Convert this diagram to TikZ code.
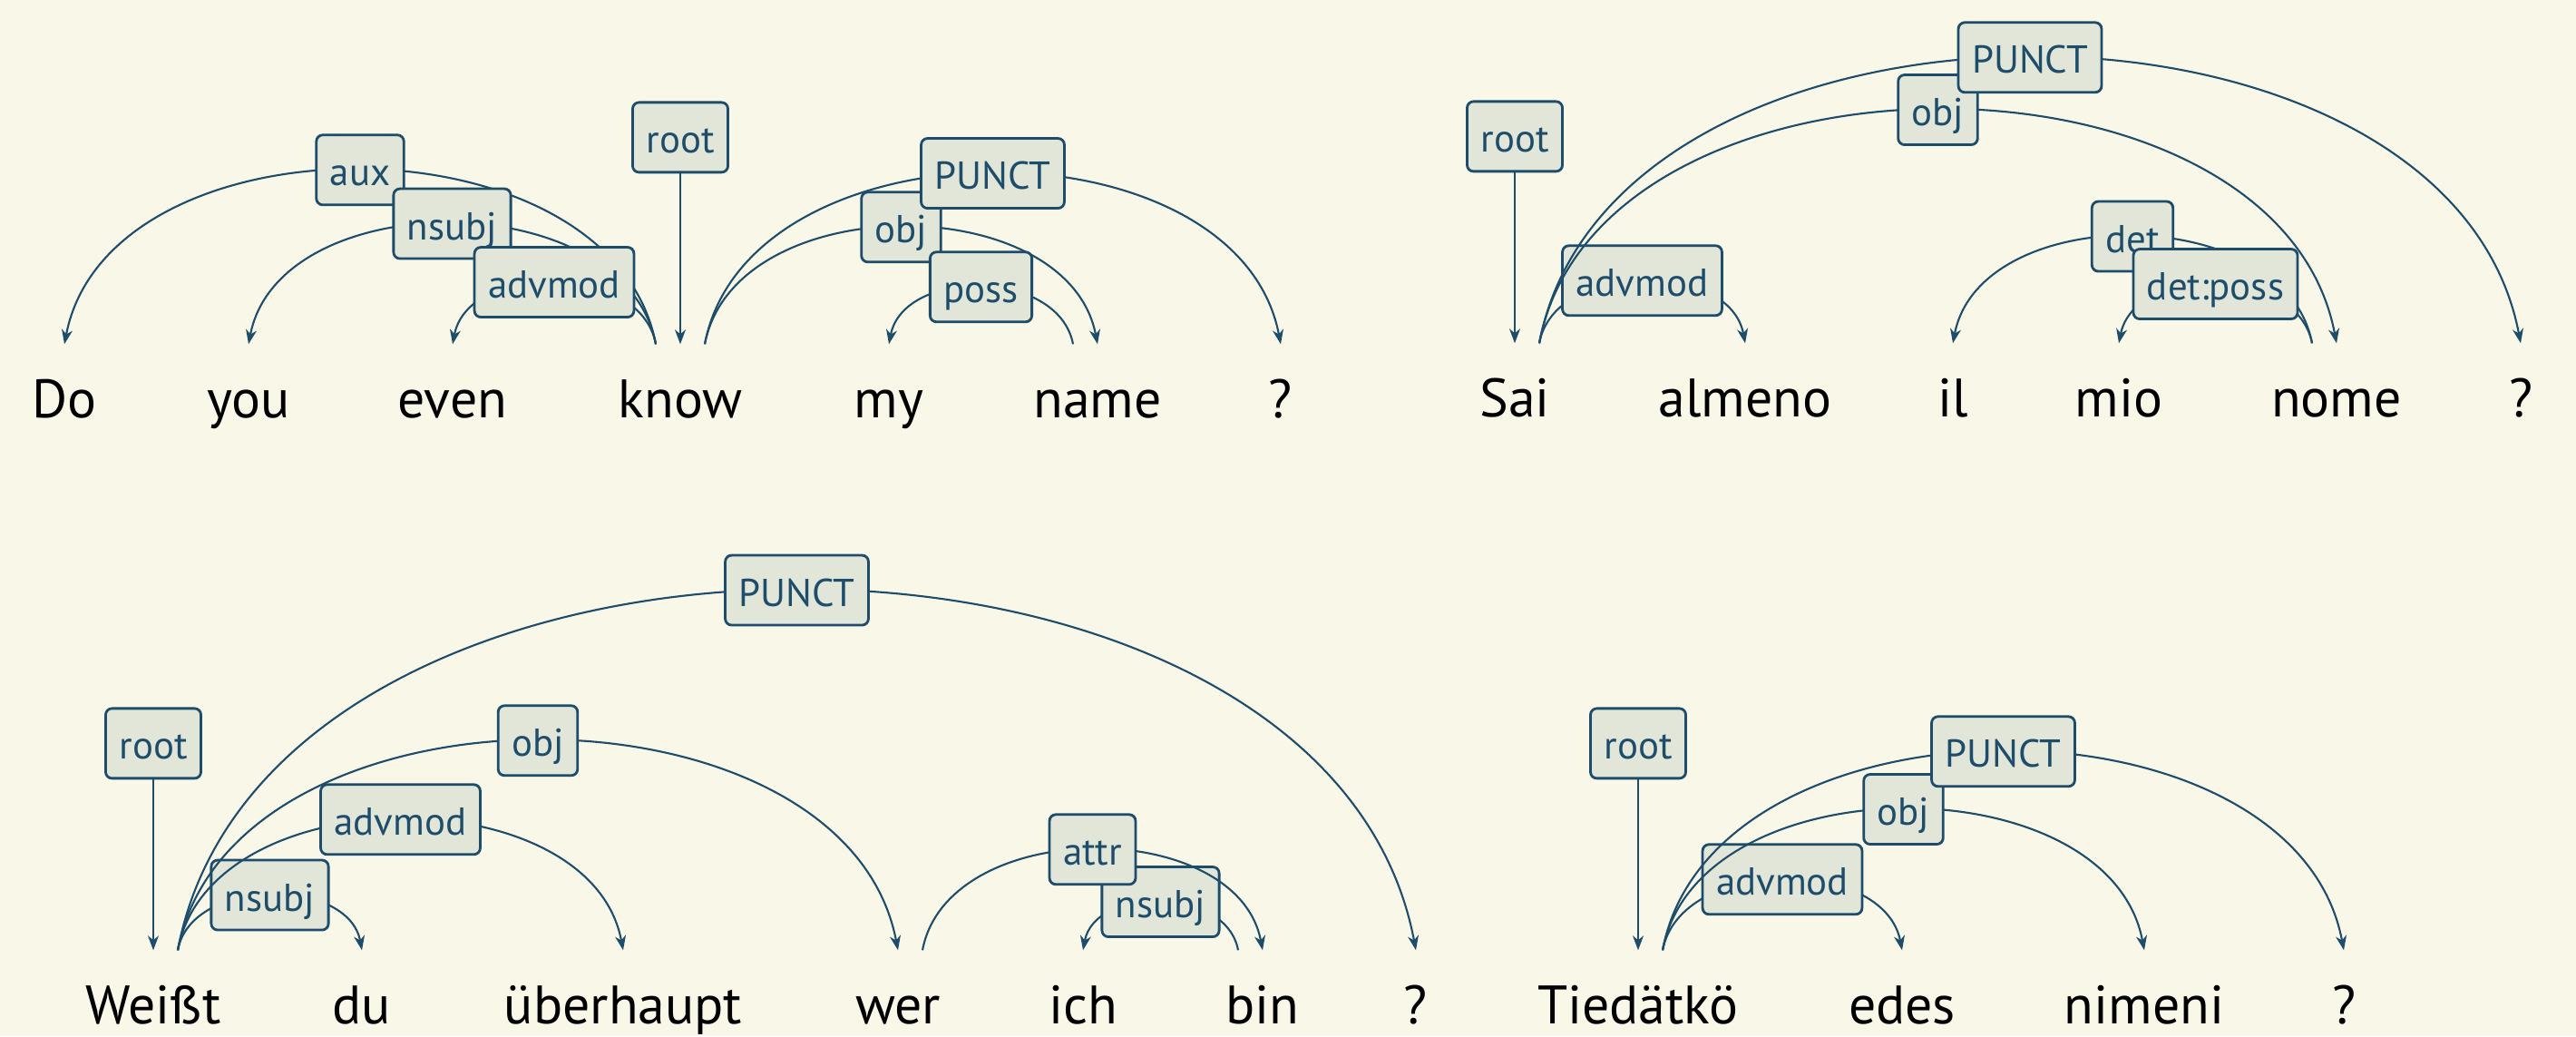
\documentclass[tikz,border=0pt]{standalone}
\usepackage{fontspec}
\setmainfont{PT Sans}
\usepackage{tikz}
\usetikzlibrary{positioning}
\usetikzlibrary{arrows.meta}

\definecolor{bgcream}{HTML}{F9F7E7}
\definecolor{depblue}{HTML}{1E4D6B}
\definecolor{labfill}{HTML}{E2E6D8}

\begin{document}
\begin{tikzpicture}[
	  word/.style = {anchor=base, font=\fontsize{17}{20}\selectfont, text height=5mm, text depth=1.5mm, inner ysep=3mm, inner xsep=0pt},
	  deplabel/.style = {shape=rectangle, rounded corners=2pt, draw=depblue, line width=0.8pt, fill=labfill, text=depblue, font=\fontsize{12.2}{14}\selectfont, text height=4.4mm, text depth=0.9mm, inner xsep=1.5mm, inner ysep=1.2mm},
	  deparc/.style = {draw=depblue, line width=0.6pt, -{Stealth[length=1.6mm, width=1.2mm, inset=0.5mm]}},
	  rootarc/.style = {deparc, line width=0.5pt}
	]

	  \useasboundingbox (0,0) rectangle (28.4,11.42);
	  \fill[bgcream] (0,0) rectangle (28.4,11.42);

	  \node[word] (do-en) at (0.71,6.82) {Do};
	  \node[word] (you-en) at (2.74,6.82) {you};
	  \node[word] (even-en) at (4.99,6.82) {even};
	  \node[word] (know-en) at (7.50,6.82) {know};
	  \node[word] (my-en) at (9.80,6.82) {my};
	  \node[word] (name-en) at (12.10,6.82) {name};
	  \node[word] (q-en) at (14.12,6.82) {?};

	  \draw[deparc] ([xshift=-2.7mm]know-en.north) .. controls +(-0.49,2.56) and +(0.49,2.56) .. node[deplabel, midway] (aux-en) {aux} (do-en.north);
	  \draw[deparc] ([xshift=-2.7mm]know-en.north) .. controls +(-0.34,1.77) and +(0.34,1.77) .. node[deplabel, midway] (nsubj-en) {nsubj} (you-en.north);
	  \draw[deparc] ([xshift=-2.7mm]know-en.north) .. controls +(-0.17,0.91) and +(0.17,0.91) .. node[deplabel, midway] (advmod-en) {advmod} (even-en.north);
	  \node[deplabel, above=18.8mm of know-en] (root-en) {root};
	  \draw[rootarc] (root-en) -- (know-en.north);
	  \draw[deparc] ([xshift=2.7mm]know-en.north) .. controls +(0.33,1.72) and +(-0.33,1.72) .. node[deplabel, midway] (obj-en) {obj} (name-en.north);
	  \draw[deparc] ([xshift=-2.7mm]name-en.north) .. controls +(-0.16,0.84) and +(0.16,0.84) .. node[deplabel, midway] (poss-en) {poss} (my-en.north);
	  \draw[deparc] ([xshift=2.7mm]know-en.north) .. controls +(0.48,2.51) and +(-0.48,2.51) .. node[deplabel, midway] (punct-en) {PUNCT} (q-en.north);

	  \node[word] (sai-it) at (16.70,6.83) {Sai};
	  \node[word] (almeno-it) at (19.24,6.83) {almeno};
	  \node[word] (il-it) at (21.53,6.83) {il};
	  \node[word] (mio-it) at (23.36,6.83) {mio};
	  \node[word] (nome-it) at (25.76,6.83) {nome};
	  \node[word] (q-it) at (27.79,6.83) {?};

	  \node[deplabel, above=18.8mm of sai-it] (root-it) {root};
	  \draw[rootarc] (root-it) -- (sai-it.north);
	  \draw[deparc] ([xshift=2.7mm]sai-it.north) .. controls +(0.17,0.92) and +(-0.17,0.92) .. node[deplabel, midway] (advmod-it) {advmod} (almeno-it.north);
	  \draw[deparc] ([xshift=2.7mm]sai-it.north) .. controls +(0.65,3.43) and +(-0.65,3.43) .. node[deplabel, midway] (obj-it) {obj} (nome-it.north);
	  \draw[deparc] ([xshift=2.7mm]sai-it.north) .. controls +(0.80,4.20) and +(-0.80,4.20) .. node[deplabel, midway] (punct-it) {PUNCT} (q-it.north);
	  \draw[deparc] ([xshift=-2.7mm]nome-it.north) .. controls +(-0.30,1.57) and +(0.30,1.57) .. node[deplabel, midway] (det-it) {det} (il-it.north);
	  \draw[deparc] ([xshift=-2.7mm]nome-it.north) .. controls +(-0.17,0.87) and +(0.17,0.87) .. node[deplabel, midway] (detposs-it) {det:poss} (mio-it.north);

	  \node[word] (weisst-de) at (1.69,0.14) {Weißt};
	  \node[word] (du-de) at (3.99,0.14) {du};
	  \node[word] (ueberhaupt-de) at (6.87,0.14) {überhaupt};
	  \node[word] (wer-de) at (9.90,0.14) {wer};
	  \node[word] (ich-de) at (11.94,0.14) {ich};
	  \node[word] (bin-de) at (13.92,0.14) {bin};
	  \node[word] (q-de) at (15.61,0.14) {?};

	  \node[deplabel, above=18.8mm of weisst-de] (root-de) {root};
	  \draw[rootarc] (root-de) -- (weisst-de.north);
	  \draw[deparc] ([xshift=2.7mm]weisst-de.north) .. controls +(0.15,0.81) and +(-0.15,0.81) .. node[deplabel, midway] (nsubj-de) {nsubj} (du-de.north);
	  \draw[deparc] ([xshift=2.7mm]weisst-de.north) .. controls +(0.36,1.92) and +(-0.36,1.92) .. node[deplabel, midway] (advmod-de) {advmod} (ueberhaupt-de.north);
	  \draw[deparc] ([xshift=2.7mm]weisst-de.north) .. controls +(0.59,3.08) and +(-0.59,3.08) .. node[deplabel, midway] (obj-de) {obj} (wer-de.north);
	  \draw[deparc] ([xshift=2.7mm]weisst-de.north) .. controls +(1.00,5.29) and +(-1.00,5.29) .. node[deplabel, midway] (punct-de) {PUNCT} (q-de.north);
	  \draw[deparc] ([xshift=-2.7mm]bin-de.north) .. controls +(-0.13,0.71) and +(0.13,0.71) .. node[deplabel, midway] (nsubj2-de) {nsubj} (ich-de.north);
	  \draw[deparc] ([xshift=2.7mm]wer-de.north) .. controls +(0.28,1.48) and +(-0.28,1.48) .. node[deplabel, midway] (attr-de) {attr} (bin-de.north);

	  \node[word] (tiedatko-fi) at (18.06,0.14) {Tiedätkö};
	  \node[word] (edes-fi) at (20.97,0.14) {edes};
	  \node[word] (nimeni-fi) at (23.64,0.14) {nimeni};
	  \node[word] (q-fi) at (25.84,0.14) {?};

	  \node[deplabel, above=18.8mm of tiedatko-fi] (root-fi) {root};
	  \draw[rootarc] (root-fi) -- (tiedatko-fi.north);
	  \draw[deparc] ([xshift=2.7mm]tiedatko-fi.north) .. controls +(0.20,1.04) and +(-0.20,1.04) .. node[deplabel, midway] (advmod-fi) {advmod} (edes-fi.north);
	  \draw[deparc] ([xshift=2.7mm]tiedatko-fi.north) .. controls +(0.39,2.07) and +(-0.39,2.07) .. node[deplabel, midway] (obj-fi) {obj} (nimeni-fi.north);
	  \draw[deparc] ([xshift=2.7mm]tiedatko-fi.north) .. controls +(0.55,2.92) and +(-0.55,2.92) .. node[deplabel, midway] (punct-fi) {PUNCT} (q-fi.north);
	\end{tikzpicture}
\end{document}
